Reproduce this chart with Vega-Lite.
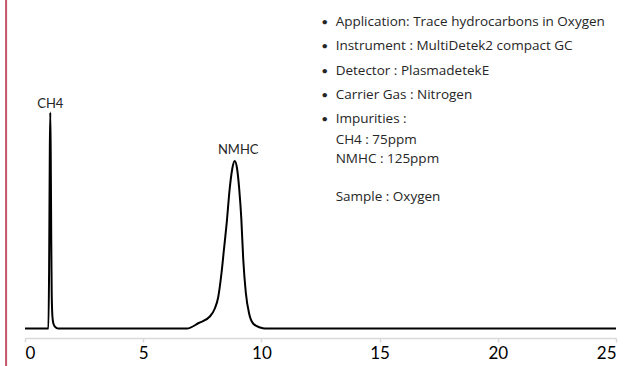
{
  "$schema": "https://vega.github.io/schema/vega-lite/v6.json",
  "width": 591,
  "height": 338,
  "autosize": "none",
  "padding": {"left": 25, "top": 0, "right": 12, "bottom": 28},
  "background": "white",
  "config": {"view": {"stroke": null}},
  "datasets": {
    "trace": [
      {"t": 0, "signal": 0},
      {"t": 0.99, "signal": 0},
      {"t": 1.02, "signal": 60},
      {"t": 1.05, "signal": 180},
      {"t": 1.07, "signal": 216},
      {"t": 1.09, "signal": 170},
      {"t": 1.11, "signal": 90},
      {"t": 1.13, "signal": 35},
      {"t": 1.16, "signal": 12},
      {"t": 1.2, "signal": 5},
      {"t": 1.28, "signal": 1.5},
      {"t": 1.4, "signal": 0},
      {"t": 6.85, "signal": 0},
      {"t": 7.35, "signal": 5.5},
      {"t": 7.82, "signal": 12},
      {"t": 8.03, "signal": 20},
      {"t": 8.17, "signal": 31},
      {"t": 8.31, "signal": 55},
      {"t": 8.42, "signal": 80},
      {"t": 8.53, "signal": 105},
      {"t": 8.66, "signal": 140},
      {"t": 8.77, "signal": 160},
      {"t": 8.87, "signal": 167.5},
      {"t": 8.97, "signal": 160},
      {"t": 9.06, "signal": 140},
      {"t": 9.15, "signal": 110},
      {"t": 9.23, "signal": 70},
      {"t": 9.34, "signal": 36},
      {"t": 9.48, "signal": 15},
      {"t": 9.65, "signal": 5},
      {"t": 9.95, "signal": 1},
      {"t": 10.15, "signal": 0},
      {"t": 25, "signal": 0}
    ],
    "peaks": [
      {"name": "CH4", "t": 1.07, "signal": 221},
      {"name": "NMHC", "t": 9.02, "signal": 175}
    ],
    "info": [
      {"text": "Application: Trace hydrocarbons in Oxygen", "t": 13.14, "signal": 302.5, "bullet": true},
      {"text": "Instrument : MultiDetek2 compact GC", "t": 13.14, "signal": 278.5, "bullet": true},
      {"text": "Detector : PlasmadetekE", "t": 13.14, "signal": 253.5, "bullet": true},
      {"text": "Carrier Gas : Nitrogen", "t": 13.14, "signal": 229.5, "bullet": true},
      {"text": "Impurities :", "t": 13.14, "signal": 205.2, "bullet": true},
      {"text": "CH4 : 75ppm", "t": 13.14, "signal": 184.5, "bullet": false},
      {"text": "NMHC : 125ppm", "t": 13.14, "signal": 165.2, "bullet": false},
      {"text": "Sample : Oxygen", "t": 13.14, "signal": 127.8, "bullet": false}
    ],
    "frame": [
      {"edge": "left", "t": -0.8, "top": 328.5, "bottom": -37.5}
    ]
  },
  "encoding": {
    "x": {
      "field": "t",
      "type": "quantitative",
      "scale": {"domain": [0, 25], "nice": false, "zero": false},
      "axis": {
        "values": [0, 5, 10, 15, 20, 25],
        "title": null,
        "grid": false,
        "domainColor": "#d9d9d9",
        "domainWidth": 1.5,
        "tickColor": "#d9d9d9",
        "tickWidth": 1.5,
        "tickSize": 4,
        "labelFont": "Lato",
        "labelFontSize": 17,
        "labelColor": "#000000",
        "labelPadding": 3
      }
    },
    "y": {
      "field": "signal",
      "type": "quantitative",
      "scale": {"domain": [-9.5, 328.5], "nice": false, "zero": false},
      "axis": null
    }
  },
  "layer": [
    {
      "data": {"name": "trace"},
      "mark": {"type": "line", "color": "#000000", "strokeWidth": 2, "interpolate": "monotone"}
    },
    {
      "data": {"name": "peaks"},
      "mark": {"type": "text", "font": "Lato", "fontSize": 13, "color": "#262626", "baseline": "alphabetic", "align": "center"},
      "encoding": {"text": {"field": "name"}}
    },
    {
      "data": {"name": "info"},
      "mark": {"type": "text", "font": "Open Sans", "fontSize": 13.5, "color": "#262626", "baseline": "alphabetic", "align": "left"},
      "encoding": {"text": {"field": "text"}}
    },
    {
      "data": {"name": "info"},
      "transform": [{"filter": "datum.bullet"}],
      "mark": {"type": "text", "font": "Lato", "fontSize": 12, "color": "#262626", "baseline": "alphabetic", "align": "center", "dx": -11},
      "encoding": {"text": {"value": "•"}}
    },
    {
      "data": {"name": "frame"},
      "mark": {"type": "rule", "color": "#c3566b", "strokeWidth": 2, "clip": false},
      "encoding": {
        "x": {"field": "t", "type": "quantitative"},
        "y": {"field": "top", "type": "quantitative"},
        "y2": {"field": "bottom"}
      }
    }
  ]
}
